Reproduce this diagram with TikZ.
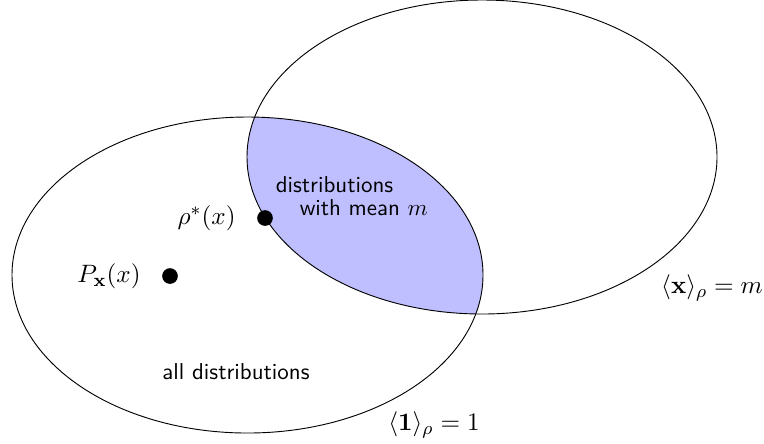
\documentclass[tikz,border=0pt]{standalone}
\usepackage{amsmath,amssymb}
\usepackage{tikz}
\usetikzlibrary{positioning}

\begin{document}
\begin{tikzpicture}[
    x=0.0153cm, y=-0.0153cm,
    dot/.style={circle, fill=black, inner sep=0pt, minimum size=0.24cm},
    label/.style={inner sep=1pt, font=\fontsize{11}{13}\selectfont},
    txt/.style={inner sep=1pt, font=\sffamily}
]
    \useasboundingbox (0,0) rectangle (764,443);

    % --- SETS ---
    \coordinate (AllC) at (247.5,275);
    \coordinate (MeanC) at (482,157);
    \begin{scope}
        \clip (AllC) ellipse [x radius=235.5, y radius=158];
        \fill[blue!25] (MeanC) ellipse [x radius=235, y radius=157];
    \end{scope}
    \draw (AllC) ellipse [x radius=235.5, y radius=158];
    \draw (MeanC) ellipse [x radius=235, y radius=157];

    % --- POINTS ---
    \node[dot] (RhoStar) at (265,218) {};
    \node[dot] (Px) at (170,276) {};
    \node[label, left=8pt of RhoStar] (RhoStarLabel) {$\rho^*(x)$};
    \node[label, left=8pt of Px] (PxLabel) {$P_{\mathbf{x}}(x)$};

    % --- TEXTS ---
    \node[txt, anchor=west] (MeanText1) at (273,185) {distributions};
    \node[txt, anchor=west] (MeanText2) at (297,208) {with mean $m$};
    \node[txt] (AllText) at (236,372) {all distributions};
    \node[label] (NormLabel) at (434,425) {$\langle\mathbf{1}\rangle_\rho = 1$};
    \node[label] (MeanLabel) at (712,288) {$\langle\mathbf{x}\rangle_\rho = m$};
\end{tikzpicture}
\end{document}
